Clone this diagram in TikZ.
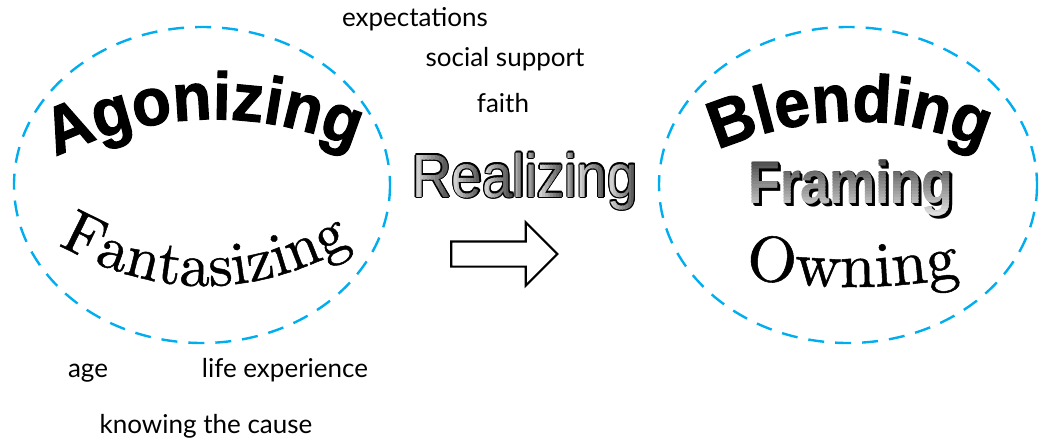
\documentclass[tikz,border=0pt]{standalone}
\usepackage{fontspec}
\usepackage{xcolor}
\usepackage{tikz}
\usetikzlibrary{calc, shapes.arrows, decorations.text}
\newfontfamily\labelfont{Lato}
\newfontfamily\sansfont{Liberation Sans}
\newfontfamily\heavysans{Liberation Sans Bold}[FakeBold=1.6, FakeStretch=0.95]
\newfontfamily\oldserif{lmroman10-regular.otf}[FakeBold=0.8]
\definecolor{ringblue}{RGB}{0,174,239}

\begin{document}
\begin{tikzpicture}[x=1pt, y=-1pt,
  ring/.style={ringblue, line width=2.4pt, dash pattern=on 16pt off 11pt},
  cue/.style={font=\labelfont\fontsize{26}{26}\selectfont, anchor=base, inner sep=0pt},
  realtext/.style={font=\sansfont\fontsize{61}{61}\selectfont, xscale=0.9, transform shape,
    anchor=base west, inner sep=0pt},
  frametext/.style={font=\sansfont\bfseries\fontsize{60}{60}\selectfont, xscale=0.866, transform shape,
    anchor=base, inner sep=0pt},
  curved/.style={decorate, decoration={text along path, text align=center}}]
  \useasboundingbox (0,0) rectangle (1040,441);

  % the two stages
  \draw[ring] (202,185) ellipse [x radius=188, y radius=158];
  \draw[ring] (848,185) ellipse [x radius=189, y radius=158];

  % left stage
  \path[curved, decoration={text={|\heavysans\fontsize{67}{67}\selectfont|Agonizing}}]
    (30,170) .. controls (146.7,106) and (263.3,102.7) .. (380,160);
  \path[curved, decoration={text={|\oldserif\fontsize{61}{61}\selectfont|Fantasizing}}]
    (50,240) .. controls (153.3,301.3) and (256.7,301.3) .. (360,240);

  % what shapes the move
  \node[cue] (expect) at (415,27) {expectations};
  \node[cue] (social) at (505,67) {social support};
  \node[cue] (faith) at (503,113) {faith};
  \node[cue] (age) at (88,377) {age};
  \node[cue] (life) at (285,377) {life experience};
  \node[cue] (cause) at (206,433) {knowing the cause};

  % middle stage: outlined letters, each shaded light to dark
  \foreach \ch/\x/\w in {R/412.1/39.6, e/451.7/30.5, a/482.2/30.5, l/512.8/12.2, i/525.0/12.2,
      z/537.1/27.5, i/564.6/12.2, n/576.8/30.5, g/607.3/30.5} {
    \foreach \a in {0,30,...,330}
      \node[realtext, text=black] (rim) at ($(\x,197)+(\a:1.3pt)$) {\ch};
    \foreach \k in {0,...,9} {
      \pgfmathsetmacro\tone{12+6.5*\k}
      \begin{scope}
        \clip (\x+\k*\w/10,140) rectangle (\x+\k*\w/10+\w/10+0.4,215);
        \node[realtext, text=black!\tone] (glyph) at (\x,197) {\ch};
      \end{scope}
    }
  }

  \node[draw, line width=2.2pt, fill=white, single arrow, single arrow head extend=19pt,
    minimum height=106pt, inner xsep=0pt, inner ysep=11.5pt] (arrow) at (498,254) {};

  % right stage
  \path[curved, decoration={text={|\heavysans\fontsize{67}{67}\selectfont|Blending}}]
    (700,158) .. controls (800,110) and (900,108.7) .. (1000,156);
  \foreach \d in {0.8,1.6,2.4,3.2}
    \node[frametext, text=black] (frameshadow) at (851+\d,203+\d) {Framing};
  \foreach \k in {0,...,19} {
    \pgfmathsetmacro\tone{74-3.4*\k}
    \begin{scope}
      \clip (740,157+\k*3.1) rectangle (962,157+\k*3.1+3.5);
      \node[frametext, text=black!\tone] (framing) at (851,203) {Framing};
    \end{scope}
  }
  \path[curved, decoration={text={|\oldserif\fontsize{64}{64}\selectfont|Owning}}]
    (740,276) .. controls (814.7,290.7) and (890.3,290.7) .. (965,276);
\end{tikzpicture}
\end{document}
